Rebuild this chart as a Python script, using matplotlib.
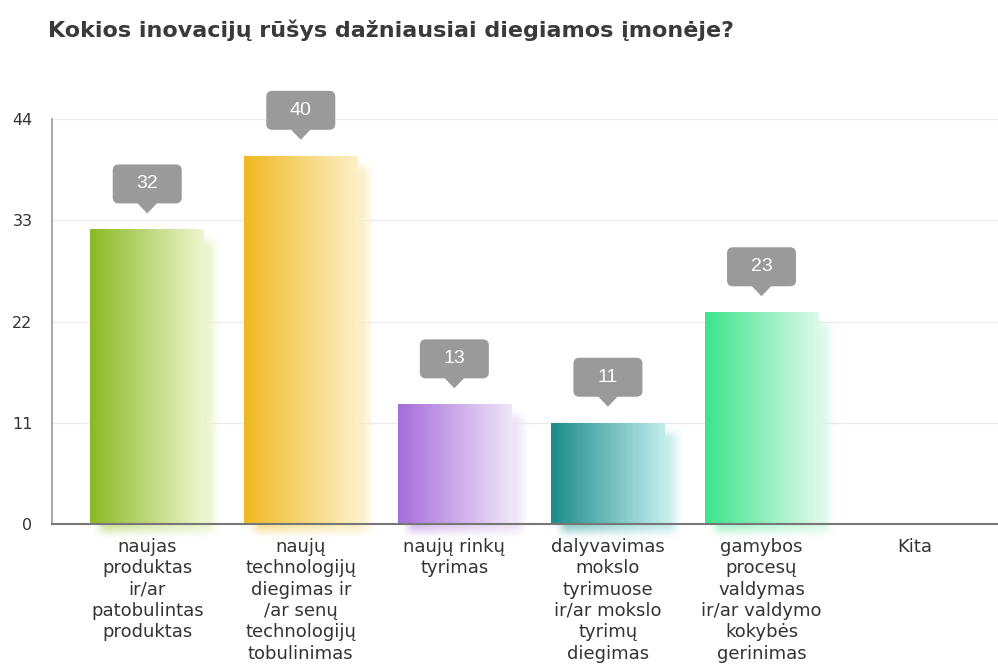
import numpy as np
import matplotlib
matplotlib.use("Agg")
import matplotlib.pyplot as plt
import matplotlib.transforms as mtransforms
from matplotlib.patches import FancyBboxPatch, Polygon
from matplotlib.colors import to_rgb

# Duomenys
kategorijos = ["naujas\nproduktas\nir/ar\npatobulintas\nproduktas",
               "naujų\ntechnologijų\ndiegimas ir\n/ar senų\ntechnologijų\ntobulinimas",
               "naujų rinkų\ntyrimas",
               "dalyvavimas\nmokslo\ntyrimuose\nir/ar mokslo\ntyrimų\ndiegimas",
               "gamybos\nprocesų\nvaldymas\nir/ar valdymo\nkokybės\ngerinimas",
               "Kita"]
reiksmes = [32, 40, 13, 11, 23, 0]
y_zymes = [0, 11, 22, 33, 44]
pavadinimas = "Kokios inovacijų rūšys dažniausiai diegiamos įmonėje?"

# spalvos: kaire (soti) -> desine (blyški)
spalvos_kaire = ["#8cb825", "#f0b922", "#a66ddb", "#1b8b8b", "#3de38c", "#cccccc"]
spalvos_desine = ["#eef6cf", "#fcf0c6", "#efe5f8", "#c2ecec", "#dcf9e9", "#eeeeee"]

fig = plt.figure(figsize=(9.98, 6.71), dpi=100)
ax = fig.add_axes([52/998, 1-524/671, 1-52/998, (524-119)/671])

x = np.arange(len(kategorijos))
plotis = 0.74
stulpeliai = ax.bar(x, reiksmes, plotis, color="none", zorder=3)

def gradientas(c0, c1, n=256):
    t = np.linspace(0, 1, n)[None, :, None]
    a = np.array(to_rgb(c0))[None, None, :]
    b = np.array(to_rgb(c1))[None, None, :]
    return a + (b - a) * t

px_x = 1/153.5   # vienas pikselis duomenu vienetais
px_y = 1/9.2

for i, (st, v) in enumerate(zip(stulpeliai, reiksmes)):
    if v <= 0:
        continue
    x0 = st.get_x()
    x1 = x0 + st.get_width()
    # seselis (poslinktas, suliejtas)
    sx0, sx1 = x0 + 10*px_x, x1 + 11*px_x
    sy0, sy1 = -8*px_y, v - 11*px_y
    bx, by = 8*px_x, 8*px_y
    ex0, ex1 = sx0 - bx, sx1 + bx
    ey0, ey1 = sy0 - by, sy1 + by
    gx = np.linspace(ex0, ex1, 200)
    gy = np.linspace(ey1, ey0, 400)
    ax_ = np.clip(np.minimum(gx - ex0, ex1 - gx) / (2*bx), 0, 1)
    ay_ = np.clip(np.minimum(gy - ey0, ey1 - gy) / (2*by), 0, 1)
    ax_ = ax_**2 * (3 - 2*ax_)
    ay_ = ay_**2 * (3 - 2*ay_)
    alpha = ay_[:, None] * ax_[None, :] * 0.8
    rgb = gradientas(spalvos_kaire[i], spalvos_desine[i], 200)
    rgb = rgb * 0.5 + 0.5 * np.array(to_rgb(spalvos_desine[i]))
    img = np.concatenate([np.repeat(rgb, 400, axis=0), alpha[:, :, None]], axis=2)
    ax.imshow(img, extent=(ex0, ex1, ey0, ey1), aspect="auto",
              interpolation="bilinear", zorder=2, clip_on=False)
    # stulpelis
    im = ax.imshow(gradientas(spalvos_kaire[i], spalvos_desine[i]),
                   extent=(x0, x1, 0, v), aspect="auto",
                   interpolation="bilinear", zorder=3)
    im.set_clip_path(st)

    # etikete
    tr = fig.dpi_scale_trans + mtransforms.ScaledTranslation(x[i], v, ax.transData)
    box = FancyBboxPatch((-0.345, 0.26), 0.69, 0.39,
                         boxstyle="round,pad=0,rounding_size=0.06",
                         fc="#9a9a9a", ec="none", transform=tr,
                         clip_on=False, zorder=5)
    ax.add_patch(box)
    tri = Polygon([(-0.10, 0.265), (0.10, 0.265), (0, 0.16)], closed=True,
                  fc="#9a9a9a", ec="none", transform=tr, clip_on=False, zorder=5)
    ax.add_patch(tri)
    ax.text(0, 0.455, str(v), transform=tr, ha="center", va="center",
            color="white", fontsize=14, family="Liberation Sans", zorder=6)

ax.set_xlim(-0.62, 5.54)
ax.set_ylim(0, 44)
ax.set_yticks(y_zymes)
ax.set_yticklabels([str(t) for t in y_zymes], fontsize=11.5, color="#333333")
ax.set_xticks(x)
ax.set_xticklabels(kategorijos, fontsize=13, color="#333333", linespacing=1.24)
ax.tick_params(axis="both", length=0)
ax.tick_params(axis="y", pad=14)
ax.tick_params(axis="x", pad=10)

for t in y_zymes[1:]:
    ax.axhline(t, color="#ececec", lw=1, zorder=1)

for s in ["top", "right"]:
    ax.spines[s].set_visible(False)
ax.spines["left"].set_color("#999999")
ax.spines["left"].set_linewidth(1.2)
ax.spines["bottom"].set_color("#777777")
ax.spines["bottom"].set_linewidth(1.5)
ax.spines["bottom"].set_zorder(4)

fig.text(48/998, 1-30/671, pavadinimas, fontsize=16, fontweight="bold",
         color="#3a3a3a", va="center", ha="left")

fig.savefig("out.png", dpi=100)
